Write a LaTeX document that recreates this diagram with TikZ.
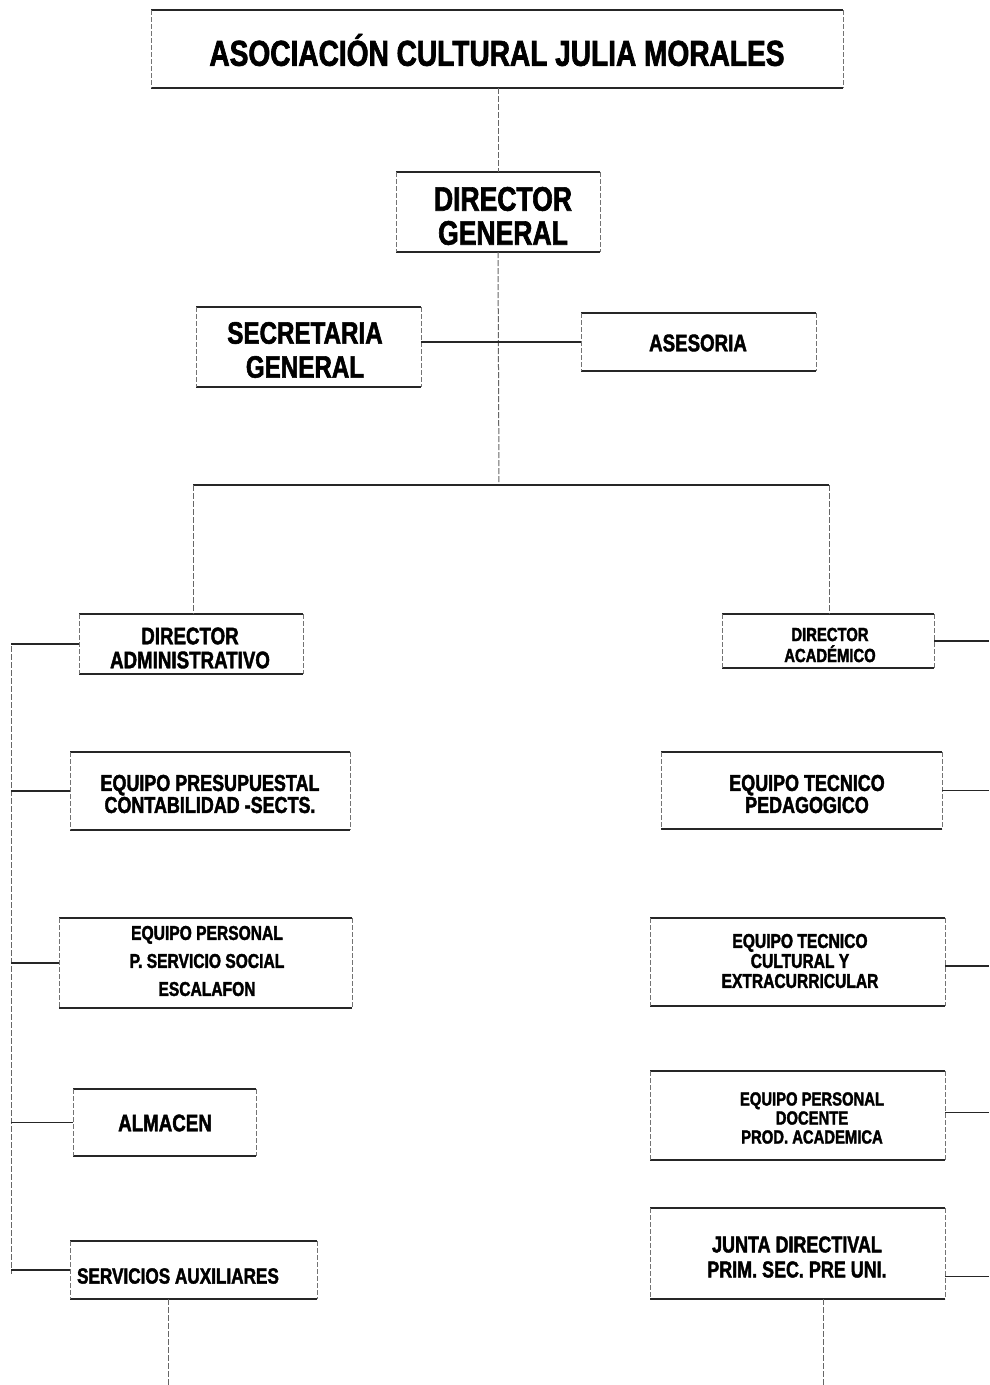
\documentclass[tikz,border=0pt]{standalone}
\usepackage{fontspec}
\setmainfont{Liberation Sans}
\newfontfamily\nar[FakeStretch=0.78,FakeBold=1.8]{Liberation Sans}
\newcommand\fs[2]{\nar\bfseries\fontsize{#1}{#2}\selectfont}
\tikzset{
  boxshape/.style={rectangle, draw=none, inner sep=0pt, outer sep=0pt},
  hline/.style={draw=black!85, line width=1.3pt},
  sideline/.style={draw=black!55, line width=0.9pt, dash pattern=on 5pt off 2pt},
  vconn/.style={draw=black!60, line width=1pt, dash pattern=on 6pt off 2pt},
  hconn/.style={draw=black!85, line width=1.2pt},
  lbl/.style={inner sep=0pt, align=center, text=black}
}
\newcommand\orgbox[5]{%
  \node[boxshape, minimum width={#4-#2}, minimum height={#5-#3}] (#1) at ({(#2+#4)/2},{(#3+#5)/2}) {};
  \draw[hline] (#1.north west) -- (#1.north east) (#1.south west) -- (#1.south east);
  \draw[sideline] (#1.north west) -- (#1.south west) (#1.north east) -- (#1.south east);
}
\begin{document}
\begin{tikzpicture}[x=1pt,y=-1pt]
\useasboundingbox[fill=white] (0,0) rectangle (989,1385);
% boxes
\orgbox{title}{151}{10}{843}{88}
\orgbox{dg}{396}{172}{600}{252}
\orgbox{sg}{196}{307}{421}{387}
\orgbox{as}{581}{313}{816}{371}
\orgbox{da}{79}{614}{303}{674}
\orgbox{dac}{722}{614}{934}{668}
\orgbox{ep}{70}{752}{350}{830}
\orgbox{eper}{59}{918}{352}{1008}
\orgbox{alm}{73}{1089}{256}{1156}
\orgbox{sa}{70}{1241}{317}{1299}
\orgbox{etp}{661}{752}{942}{829}
\orgbox{etc}{650}{918}{945}{1006}
\orgbox{epd}{650}{1071}{945}{1160}
\orgbox{jd}{650}{1208}{945}{1299}
% labels
\node[lbl, font=\fs{36}{32}] (ttitle) at (497,50) {ASOCIACIÓN CULTURAL JULIA MORALES};
\node[lbl, font=\fs{34}{34}] (tdg) at (503,216) {DIRECTOR\\GENERAL};
\node[lbl, font=\fs{31}{34}] (tsg) at (305,350) {SECRETARIA\\GENERAL};
\node[lbl, font=\fs{24}{24}] (tas) at (698,343) {ASESORIA};
\node[lbl, font=\fs{24}{24}] (tda) at (190,648) {DIRECTOR\\ADMINISTRATIVO};
\node[lbl, font=\fs{19}{21}] (tdac) at (830,645) {DIRECTOR\\ACADÉMICO};
\node[lbl, font=\fs{23}{22}] (tep) at (210,794) {EQUIPO PRESUPUESTAL\\CONTABILIDAD -SECTS.};
\node[lbl, font=\fs{20}{28}] (teper) at (207,961) {EQUIPO PERSONAL\\P. SERVICIO SOCIAL\\ESCALAFON};
\node[lbl, font=\fs{24}{24}] (talm) at (165,1123) {ALMACEN};
\node[lbl, font=\fs{22}{24}] (tsa) at (178,1276) {SERVICIOS AUXILIARES};
\node[lbl, font=\fs{23}{22}] (tetp) at (807,794) {EQUIPO TECNICO\\PEDAGOGICO};
\node[lbl, font=\fs{20}{20}] (tetc) at (800,961) {EQUIPO TECNICO\\CULTURAL Y\\EXTRACURRICULAR};
\node[lbl, font=\fs{19}{19}] (tepd) at (812,1118) {EQUIPO PERSONAL\\DOCENTE\\PROD. ACADEMICA};
\node[lbl, font=\fs{23}{25}] (tjd) at (797,1257) {JUNTA DIRECTIVAL\\PRIM. SEC. PRE UNI.};
% coordinates
\coordinate (busc) at (499,485);
\coordinate (busl) at (193,485);
\coordinate (busr) at (829,485);
\coordinate (lbt) at (11,646);
\coordinate (lbb) at (11,1274);
\coordinate (redge) at (989,640);
\coordinate (sabot) at (168,1385);
\coordinate (jdbot) at (823,1385);
% connectors
\draw[vconn] (dg.north |- title.south) -- (dg.north);
\draw[vconn] (dg.south) -- (busc);
\draw[hconn] (sg.east |- as.west) -- (as.west);
\draw[hconn] (busl) -- (busr);
\draw[vconn] (busl) -- (busl |- da.north);
\draw[vconn] (busr) -- (busr |- dac.north);
\draw[vconn] (lbt) -- (lbb);
\draw[hconn] (da.west) -- (da.west -| lbt);
\draw[hconn] (ep.west) -- (ep.west -| lbt);
\draw[hconn] (eper.west) -- (eper.west -| lbt);
\draw[hconn] (alm.west) -- (alm.west -| lbt);
\draw[hconn] (sa.west) -- (sa.west -| lbt);
\draw[hconn] (dac.east) -- (dac.east -| redge);
\draw[hconn] (etp.east) -- (etp.east -| redge);
\draw[hconn] ([yshift=-4pt]etc.east) -- ([yshift=-4pt]etc.east -| redge);
\draw[hconn] ([yshift=3pt]epd.east) -- ([yshift=3pt]epd.east -| redge);
\draw[hconn] ([yshift=-23pt]jd.east) -- ([yshift=-23pt]jd.east -| redge);
\draw[vconn] (sabot |- sa.south) -- (sabot);
\draw[vconn] (jdbot |- jd.south) -- (jdbot);
\end{tikzpicture}
\end{document}
